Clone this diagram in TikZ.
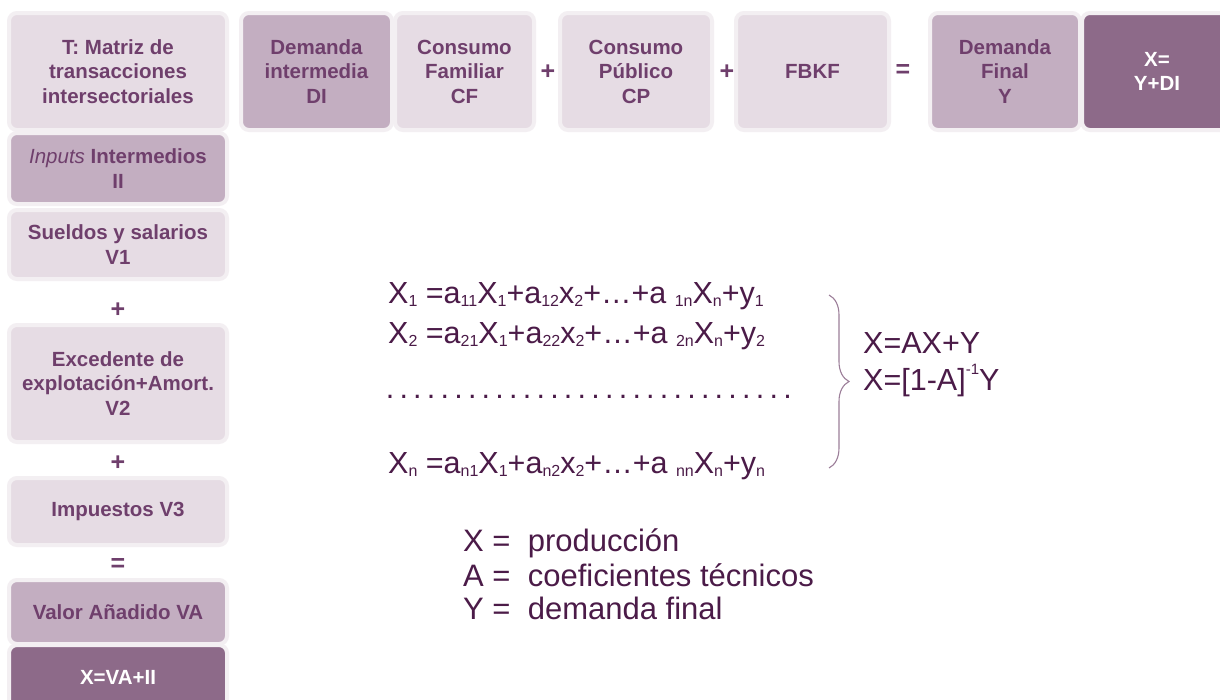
\documentclass[tikz,border=0pt]{standalone}
\usepackage{fontspec}
\setmainfont{Liberation Sans}
\usetikzlibrary{decorations.pathreplacing}
\definecolor{lightbox}{HTML}{E6DCE4}
\definecolor{medbox}{HTML}{C3AEC1}
\definecolor{darkbox}{HTML}{8D6A89}
\definecolor{glow}{HTML}{F3EFF2}
\definecolor{boxtext}{HTML}{6F3F6C}
\definecolor{eqtext}{HTML}{4B1B48}
\definecolor{bracecol}{HTML}{9C7E99}
\newcommand\sbx[1]{\raisebox{-3.5pt}{\fontsize{16}{16}\selectfont #1}}
\newcommand\spx[1]{\raisebox{16pt}{\fontsize{15}{15}\selectfont #1}}
\tikzset{
  x=1pt, y=1pt,
  box/.style={rectangle, rounded corners=8pt, draw=glow, line width=4pt,
    font=\bfseries\fontsize{20.5}{24.5}\selectfont, text=boxtext, align=center, inner sep=0pt},
  lightb/.style={box, fill=lightbox},
  medb/.style={box, fill=medbox},
  darkb/.style={box, fill=darkbox, text=white},
  op/.style={font=\bfseries\fontsize{25}{25}\selectfont, text=boxtext, inner sep=0pt},
  eq/.style={anchor=base west, font=\fontsize{30.5}{30.5}\selectfont, text=eqtext, inner sep=0pt},
  leg/.style={anchor=base west, font=\fontsize{31}{31}\selectfont, text=eqtext, inner sep=0pt},
}
\begin{document}
\begin{tikzpicture}
\useasboundingbox (0,0) rectangle (1220,-699);
\clip (0,0) rectangle (1220,-699);
\fill[white] (0,0) rectangle (1220,-699);
% top row
\node[lightb, minimum width=218, minimum height=117] (T) at (118,-71.5) {T: Matriz de\\transacciones\\intersectoriales};
\node[medb, minimum width=151, minimum height=117] (DI) at (316.5,-71.5) {Demanda\\intermedia\\DI};
\node[lightb, minimum width=139, minimum height=117] (CF) at (464.5,-71.5) {Consumo\\Familiar\\CF};
\node[op] (p1) at (548,-72) {+};
\node[lightb, minimum width=152, minimum height=117] (CP) at (636,-71.5) {Consumo\\Público\\CP};
\node[op] (p2) at (727,-72) {+};
\node[lightb, minimum width=153, minimum height=117] (FBKF) at (812.5,-71.5) {FBKF};
\node[op] (e1) at (903,-71) {=};
\node[medb, minimum width=150, minimum height=117] (DF) at (1005,-71.5) {Demanda\\Final\\Y};
\node[darkb, minimum width=150, minimum height=117] (XY) at (1157,-71.5) {X=\\Y+DI};
% left column
\node[medb, minimum width=218, minimum height=71] (II) at (118,-168.5) {{\mdseries\itshape Inputs} Intermedios\\II};
\node[lightb, minimum width=218, minimum height=69] (V1) at (118,-244.5) {Sueldos y salarios\\V1};
\node[op] (p3) at (118,-310) {+};
\node[lightb, minimum width=218, minimum height=117] (V2) at (118,-383.5) {Excedente de\\explotación+Amort.\\V2};
\node[op] (p4) at (118,-463) {+};
\node[lightb, minimum width=218, minimum height=67] (V3) at (118,-511.5) {Impuestos V3};
\node[op] (e2) at (118,-565) {=};
\node[medb, minimum width=218, minimum height=64] (VA) at (118,-612) {Valor Añadido VA};
\node[darkb, minimum width=218, minimum height=64] (XVA) at (118,-677) {X=VA+II};
% equations
\node[eq] (l1) at (388,-303) {X\sbx{1} =a\sbx{11}X\sbx{1}+a\sbx{12}x\sbx{2}+…+a \sbx{1n}X\sbx{n}+y\sbx{1}};
\node[eq] (l2) at (388,-343) {X\sbx{2} =a\sbx{21}X\sbx{1}+a\sbx{22}x\sbx{2}+…+a \sbx{2n}X\sbx{n}+y\sbx{2}};
\node[eq] (dots) at (383,-398) {\makebox[411pt][l]{\xleaders\hbox to 13.7pt{\hss.\hss}\hfill}};
\node[eq] (ln) at (388,-473) {X\sbx{n} =a\sbx{n1}X\sbx{1}+a\sbx{n2}x\sbx{2}+…+a \sbx{nn}X\sbx{n}+y\sbx{n}};
% brace
\coordinate (bt) at (829,-295);
\coordinate (bb) at (829,-468);
\draw[bracecol, line width=1.1pt, decorate, decoration={brace, amplitude=20pt}] (bt) -- (bb);
\node[eq] (r1) at (863,-353) {X=AX+Y};
\node[eq] (r2) at (863,-390) {X=[1-A]\spx{-1}Y};
% legend
\node[leg] (g1) at (463,-551) {X =\ \ producción};
\node[leg] (g2) at (463,-586) {A =\ \ coeficientes técnicos};
\node[leg] (g3) at (463,-619) {Y =\ \ demanda final};
\end{tikzpicture}
\end{document}
